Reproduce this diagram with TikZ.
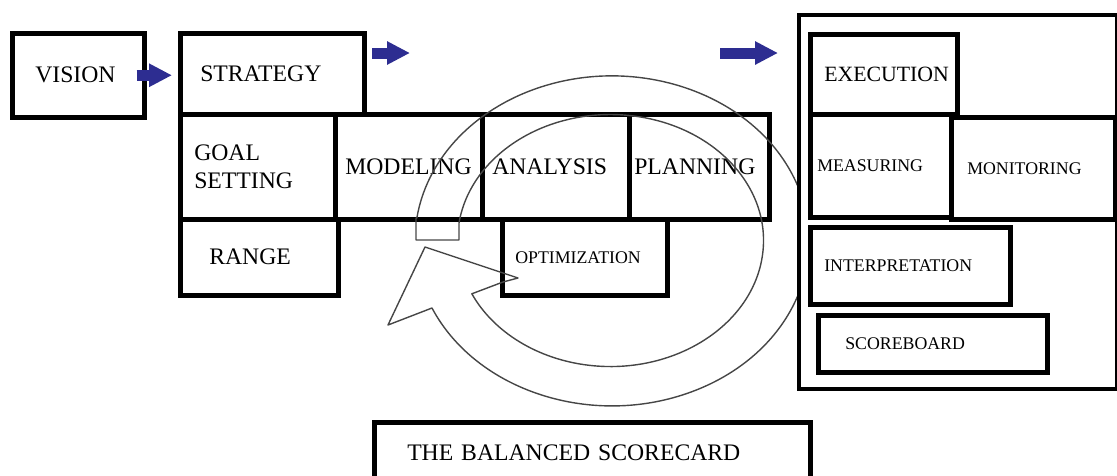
\documentclass[tikz,border=0pt]{standalone}
\usepackage{fontspec}
\setmainfont{Liberation Serif}
\usepackage{tikz}
\usetikzlibrary{arrows.meta}
\definecolor{arrowblue}{RGB}{45,45,145}
\definecolor{ringgray}{RGB}{70,70,70}
\newcommand{\bigtext}{\fontsize{23.7}{28}\selectfont}
\newcommand{\midtext}{\fontsize{21.8}{26}\selectfont}
\newcommand{\smalltext}{\fontsize{17.8}{21}\selectfont}

\begin{document}
\begin{tikzpicture}[x=1pt,y=1pt,
  box/.style={draw, line width=4.5pt, anchor=north west, align=left, inner ysep=0pt, font=\bigtext},
  small/.style={font=\smalltext},
  blockarrow/.style={arrowblue, line width=11pt, -{Triangle[length=23pt,width=22pt]}},
  ring/.style={ringgray, line width=1.4pt, line join=round}]
  \useasboundingbox (0,0) rectangle (1117,-475);

  % strategy side
  \node[box, minimum height=84pt, inner xsep=23pt, text width=86pt] (vision) at (10,-31) {VISION};
  \node[box, minimum height=81pt, inner xsep=20pt, text width=144pt] (strategy) at (178,-31) {STRATEGY};
  \node[box, minimum height=105pt, inner xsep=14pt, text width=127pt] (goal) at (178,-112) {GOAL\\SETTING};
  \node[box, minimum height=105pt, inner xsep=10pt, text width=127pt] (modeling) at (333,-112) {MODELING};
  \node[box, minimum height=105pt, inner xsep=10pt, text width=127pt] (analysis) at (480,-112) {ANALYSIS};
  \node[box, minimum height=105pt, inner xsep=5pt, text width=130pt] (planning) at (627,-112) {PLANNING};
  \node[box, minimum height=76pt, inner xsep=29pt, text width=100pt] (range) at (178,-217) {RANGE};
  \node[box, small, minimum height=76pt, inner xsep=13pt, text width=139pt] (optimization) at (500,-217) {OPTIMIZATION};

  % circular arrow
  \draw[ring] (416,-218) -- (416,-240) -- (459,-240) -- (459,-223)
    arc[start angle=172, end angle=-155, x radius=153, y radius=126]
    -- (503,-282) -- (518,-278) -- (425,-247) -- (388,-325) -- (432,-308)
    arc[start angle=-156, end angle=172, x radius=197, y radius=165] -- cycle;

  % execution side
  \node[box, fill=white, line width=4pt, minimum width=318pt, minimum height=374pt] (frame) at (797,-13) {};
  \node[box, font=\midtext, minimum height=80pt, inner xsep=14pt, text width=119pt] (execution) at (808,-32) {EXECUTION};
  \node[box, small, minimum height=103pt, inner xsep=7pt, text width=127pt] (measuring) at (808,-112) {MEASURING};
  \node[box, small, minimum height=102pt, inner xsep=16pt, text width=132pt] (monitoring) at (949,-115) {MONITORING};
  \node[box, small, minimum height=77pt, inner xsep=14pt, text width=172pt] (interpretation) at (808,-225) {INTERPRETATION};
  \node[box, small, minimum height=57pt, inner xsep=27pt, text width=175pt] (scoreboard) at (816,-313) {SCOREBOARD};

  \node[box, minimum height=62pt, inner xsep=33pt, text width=370pt] (balanced) at (372,-420) {THE BALANCED SCORECARD};

  % arrows
  \coordinate (arr2s) at (372,-53);
  \coordinate (arr2e) at (410,-53);
  \coordinate (arr3s) at (720,-53);
  \coordinate (arr3e) at (778,-53);
  \draw[blockarrow] ([xshift=-10pt]vision.east) -- ([xshift=-6pt]strategy.west |- vision.east);
  \draw[blockarrow] (arr2s) -- (arr2e);
  \draw[blockarrow] (arr3s) -- (arr3e);
\end{tikzpicture}
\end{document}
